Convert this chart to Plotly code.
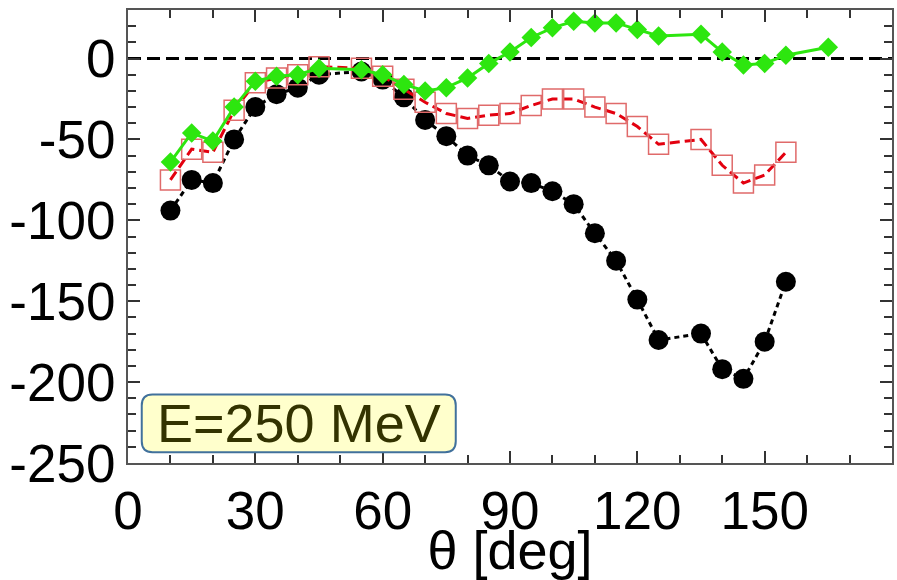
import plotly.graph_objects as go

# Data
theta = [10, 15, 20, 25, 30, 35, 40, 45, 55, 60, 65, 70, 75, 80, 85, 90, 95,
         100, 105, 110, 115, 120, 125, 135, 140, 145, 150, 155]
black_y = [-94, -75, -77, -50, -30, -22, -18, -10, -8, -13, -24, -38, -48, -60,
           -66, -76, -77, -82, -90, -108, -125, -149, -174, -170, -192, -198, -175, -138]
red_y = [-75, -56, -58, -32, -15, -12, -10, -5, -6, -11, -19, -27, -34, -37,
         -35, -34, -29, -25, -25, -30, -34, -42, -53, -50, -66, -77, -72, -58]
theta_green = [10, 15, 20, 25, 30, 35, 40, 45, 55, 60, 65, 70, 75, 80, 85, 90, 95,
               100, 105, 110, 115, 120, 125, 135, 140, 145, 150, 155, 165]
green_y = [-64, -46, -51, -30, -14, -11, -10, -6, -7, -10, -16, -20, -18, -12,
           -3, 4, 13, 19, 23, 22, 22, 18, 14, 15, 4, -4, -3, 2, 7]

x_ticks = [0, 30, 60, 90, 120, 150]
y_ticks = [0, -50, -100, -150, -200, -250]
label_text = "E=250 MeV"
x_title = "θ [deg]"

FONT = "Liberation Sans, Arial"

fig = go.Figure()

fig.add_trace(go.Scatter(
    x=theta, y=black_y, mode="lines+markers",
    line=dict(color="black", width=3, dash="5px,4px"),
    marker=dict(symbol="circle", size=20, color="black"),
))
fig.add_trace(go.Scatter(
    x=theta, y=red_y, mode="lines+markers",
    line=dict(color="#e3000f", width=3, dash="10px,5px"),
    marker=dict(symbol="square-open", size=20, color="#e06a6a", line=dict(width=1.5)),
))
fig.add_trace(go.Scatter(
    x=theta_green, y=green_y, mode="lines+markers",
    line=dict(color="#2de60f", width=3),
    marker=dict(symbol="diamond", size=15, color="#2de60f"),
))

# zero reference line
fig.add_shape(type="line", xref="paper", x0=0, x1=1, yref="y", y0=0, y1=0,
              line=dict(color="black", width=3, dash="13px,6px"), layer="below")

# rounded label box
bx0, bx1, by0, by1 = 0.018, 0.429, 0.024, 0.151
rx, ry = 0.014, 0.024
path = (f"M {bx0+rx},{by0} L {bx1-rx},{by0} Q {bx1},{by0} {bx1},{by0+ry} "
        f"L {bx1},{by1-ry} Q {bx1},{by1} {bx1-rx},{by1} L {bx0+rx},{by1} "
        f"Q {bx0},{by1} {bx0},{by1-ry} L {bx0},{by0+ry} Q {bx0},{by0} {bx0+rx},{by0} Z")
fig.add_shape(type="path", xref="paper", yref="paper", path=path,
              fillcolor="#ffffcc", line=dict(color="#41719c", width=2), layer="above")
fig.add_annotation(xref="paper", yref="paper", x=(bx0+bx1)/2, y=(by0+by1)/2,
                   xanchor="center", yanchor="middle",
                   text=label_text, showarrow=False,
                   font=dict(family=FONT, size=54, color="#333300"))

axis_common = dict(
    showgrid=False, zeroline=False, showline=True, linecolor="#555555", linewidth=2,
    mirror="ticks", ticks="inside", ticklen=12, tickwidth=1.5, tickcolor="#333333",
    tickfont=dict(family=FONT, size=53, color="black"),
)

fig.update_xaxes(range=[0, 180], tickvals=x_ticks, ticktext=[str(v) for v in x_ticks],
                 minor=dict(dtick=10, ticks="inside", ticklen=8, tickcolor="#333333"),
                 title=dict(text=x_title, font=dict(family=FONT, size=54, color="black"),
                            standoff=0),
                 **axis_common)
fig.update_yaxes(range=[-250, 30], tickvals=y_ticks, ticktext=[str(v) for v in y_ticks],
                 minor=dict(dtick=10, ticks="inside", ticklen=8, tickcolor="#333333"),
                 **axis_common)

fig.update_layout(
    width=897, height=580,
    margin=dict(l=128, r=3, t=10, b=114),
    paper_bgcolor="white", plot_bgcolor="white",
    showlegend=False,
)

fig.write_html("out.html")
